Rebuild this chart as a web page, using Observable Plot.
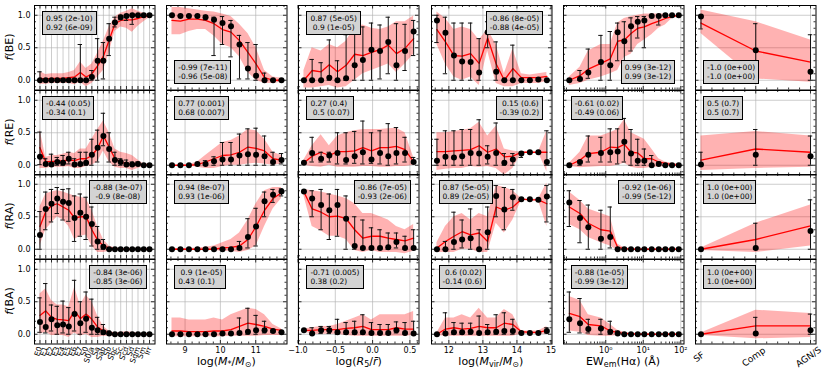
<!DOCTYPE html>
<html><head><meta charset="utf-8">
<script src="https://cdn.jsdelivr.net/npm/d3@7"></script>
<script src="https://cdn.jsdelivr.net/npm/@observablehq/plot@0.6"></script>
<style>
body{margin:0;background:#fff;}
#chart{position:relative;width:831px;height:376px;font-family:"DejaVu Sans",sans-serif;overflow:hidden;background:#fff;}
.box{position:absolute;background:#d3d3d3;border:1px solid #000;font-size:7.5px;line-height:9px;padding:2px 3px;white-space:pre;color:#000;}
.ylab{position:absolute;width:60px;height:14px;line-height:14px;text-align:center;font-size:11px;transform:rotate(-90deg);}
.xlab{position:absolute;text-align:center;font-size:11px;line-height:13px;}
.xlab sub{font-size:8px;vertical-align:-2px;line-height:0;}
</style></head>
<body><div id="chart"></div>
<script>
// ---------- categories / x positions ----------
const morphTypes = ["E0","E1","E2","E3","E4","E5","E6","E7","S0","S0/a","Sa","Sab","Sb","Sbc","Sc","Scd","Sd","Sdm","Sm","Irr"];
const morphX = morphTypes.map((d, i) => i);
const mstarX = [8.63, 8.87, 9.11, 9.35, 9.58, 9.82, 10.06, 10.30, 10.54, 10.78, 11.01, 11.25, 11.49, 11.73];
const r5X = [-0.92, -0.81, -0.69, -0.58, -0.47, -0.355, -0.24, -0.13, -0.015, 0.10, 0.21, 0.32, 0.435, 0.55];
const mvirX = [11.65, 11.90, 12.15, 12.39, 12.64, 12.89, 13.14, 13.39, 13.63, 13.88, 14.13, 14.38, 14.63, 14.88];
const ewX = [0.107, 0.206, 0.343, 0.745, 1.32, 2.08, 3.13, 4.72, 7.13, 10.7, 16.8, 25.9, 38.8, 58.5, 88.3];
const bptTypes = ["SF", "Comp", "AGN/S"];
const bptX = [0, 1, 2];

const rowNames = ["BE", "RE", "RA", "BA"];
const xTitles = ["", "log(<i>M</i><sub>*</sub>/<i>M</i><sub>⊙</sub>)", "log(<i>R</i><sub>5</sub>/<i>r̄</i>)", "log(<i>M</i><sub>vir</sub>/<i>M</i><sub>⊙</sub>)", "EW<sub>em</sub>(Hα) (Å)", ""];
const yTicks = [0, 0.5, 1.0];

// ---------- row BE ----------
const BE_morph_y  = [0,0,0,0,0,0,0,0,0,0.05,0.30,0.30,0.64,0.89,0.97,0.99,1,1,1,1];
const BE_morph_lo = [0,0,0,0,0,0,0,0,0,0,0,0.02,0.38,0.82,0.93,0.92,0.86,1,1,1];
const BE_morph_hi = [0.13,0,0,0,0,0,0,0.55,0,0.15,0.64,0.58,0.87,0.97,1,1,1,1,1,1];
const BE_morph_m  = [0.03,0.02,0.03,0.03,0.03,0.04,0.05,0.12,0.05,0.10,0.22,0.37,0.62,0.87,0.92,0.93,0.93,0.95,0.98,0.99];
const BE_morph_bl = [-0.06,-0.06,-0.05,-0.05,-0.05,-0.05,-0.07,-0.03,-0.10,-0.05,0.05,0.15,0.42,0.75,0.82,0.80,0.74,0.83,0.90,0.96];
const BE_morph_bh = [0.13,0.09,0.10,0.10,0.10,0.12,0.15,0.28,0.18,0.25,0.42,0.60,0.82,0.97,1.03,1.06,1.10,1.06,1.03,1.01];

const BE_mstar_y  = [1.0,0.99,0.99,0.99,0.97,0.93,0.88,0.83,0.55,0.18,0.07,0,0,0];
const BE_mstar_lo = [1,0.99,0.99,0.99,0.93,0.38,0.55,0.36,0.02,0.02,0,0,0,0];
const BE_mstar_hi = [1,0.99,0.99,0.99,1,0.97,0.98,0.92,0.69,0.58,0.55,0.11,0,0];
const BE_mstar_m  = [0.92,0.91,0.94,0.94,0.92,0.87,0.78,0.74,0.61,0.43,0.25,0.04,0,0];
const BE_mstar_bl = [0.70,0.70,0.75,0.78,0.78,0.68,0.55,0.50,0.36,0.12,0,-0.05,-0.05,-0.03];
const BE_mstar_bh = [1.12,1.12,1.10,1.08,1.06,1.05,1.02,0.98,0.86,0.72,0.50,0.15,0.05,0.03];

const BE_r5_y  = [0,0,0,0.04,0,0.03,0.23,0.31,0.47,0.45,0.59,0.23,0.45,0.75];
const BE_r5_lo = [0,0,0,0,0,0,0,0,0,0.02,0.10,0,0.15,0.38];
const BE_r5_hi = [0,0.32,0.27,0.62,0.30,0.70,0.82,0.82,0.88,0.85,0.97,0.87,0.86,0.92];
const BE_r5_m  = [0,0.15,0.13,0.24,0.13,0.23,0.40,0.38,0.43,0.47,0.54,0.41,0.49,0.64];
const BE_r5_bl = [-0.12,-0.12,-0.10,-0.08,-0.12,-0.10,0,0.10,0.15,0.20,0.25,0.12,0.25,0.40];
const BE_r5_bh = [0.15,0.50,0.45,0.55,0.50,0.60,0.82,0.85,0.80,0.78,0.82,0.90,0.90,0.99];

const BE_mvir_y  = [0.92,0.73,0.38,0.29,0.28,0.12,0.74,0.13,0,0,0,0,0.01,0];
const BE_mvir_lo = [0.58,0.10,0,0,0,0,0.50,0,0,0,0,0,0,0];
const BE_mvir_hi = [1,0.97,0.88,0.88,0.88,0.64,0.90,0.59,0,0.54,0,0,0.03,0];
const BE_mvir_m  = [0.78,0.59,0.38,0.37,0.41,0.26,0.65,0.25,0,0.18,0.04,0.04,0.04,0.06];
const BE_mvir_bl = [0.55,0.25,0.05,0,0.05,-0.08,0.45,-0.05,-0.10,-0.10,-0.05,-0.05,-0.05,-0.02];
const BE_mvir_bh = [1.05,0.95,0.78,0.82,0.78,0.62,0.78,0.55,0.10,0.48,0.10,0.08,0.10,0.12];

const BE_ew_y  = [0,0.02,0.12,0.28,0.23,0.74,0.60,0.83,0.90,0.92,0.99,0.99,1,1,1];
const BE_ew_lo = [0,0,0.03,0,0,0.30,0.20,0.45,0.65,0.50,0.99,0.85,1,1,1];
const BE_ew_hi = [0,0.15,0.48,0.69,0.75,0.88,0.90,0.96,0.98,0.98,0.99,1,1,1,1];
const BE_ew_m  = [0,0.07,0.17,0.26,0.33,0.60,0.62,0.72,0.80,0.82,0.87,0.91,0.95,0.98,1];
const BE_ew_bl = [-0.08,-0.05,0,0.05,0.10,0.15,0.35,0.40,0.55,0.62,0.70,0.80,0.85,0.95,0.98];
const BE_ew_bh = [0.05,0.20,0.45,0.55,0.55,0.88,0.95,0.98,1,1.02,1.02,1.02,1.02,1,1];

const BE_bpt_y  = [0.98,0.46,0.13];
const BE_bpt_lo = [0.79,0,0];
const BE_bpt_hi = [1,0.87,0.70];
const BE_bpt_m  = [0.88,0.45,0.28];
const BE_bpt_bl = [0.72,0.02,-0.03];
const BE_bpt_bh = [1.08,0.90,0.62];

// ---------- row RE ----------
const RE_morph_y  = [0.13,0.02,0.01,0.05,0.04,0.10,0.01,0.02,0.04,0.16,0.27,0.45,0.25,0.08,0.05,0.01,0.01,0.02,0,0];
const RE_morph_lo = [0.01,0,0,0,0,0.02,0,0,0,0,0.05,0.30,0.05,0,0,0,0,0,0,0];
const RE_morph_hi = [0.51,0.10,0.17,0.12,0.15,0.20,0.10,0.20,0.20,0.40,0.54,0.80,0.50,0.20,0.10,0.08,0.05,0.05,0,0];
const RE_morph_m  = [0.27,0.05,0.06,0.06,0.07,0.08,0.07,0.10,0.10,0.15,0.26,0.45,0.28,0.10,0.05,0.02,0.02,0.01,0.01,0];
const RE_morph_bl = [-0.05,-0.05,-0.03,-0.03,-0.03,-0.02,-0.05,-0.05,-0.02,0,0.05,0.22,0.05,-0.03,-0.05,-0.05,-0.08,-0.05,-0.02,-0.02];
const RE_morph_bh = [0.55,0.12,0.15,0.15,0.17,0.20,0.18,0.25,0.25,0.40,0.55,0.68,0.50,0.25,0.20,0.18,0.15,0.08,0.02,0.02];

const RE_mstar_y  = [0,0,0,0.02,0.02,0.06,0.09,0.09,0.15,0.17,0.16,0.14,0.05,0.08];
const RE_mstar_lo = [0,0,0,0,0,0,0,0,0,0,0,0,0,0.02];
const RE_mstar_hi = [0,0,0,0.02,0.07,0.13,0.35,0.35,0.48,0.56,0.57,0.45,0.20,0.18];
const RE_mstar_m  = [0,0,0,0.01,0.05,0.10,0.15,0.16,0.20,0.28,0.26,0.22,0.10,0.08];
const RE_mstar_bl = [0,0,-0.01,-0.03,-0.05,-0.05,-0.02,0,0,0.02,0.03,0.02,0,0.02];
const RE_mstar_bh = [0,0,0.01,0.05,0.15,0.25,0.35,0.38,0.45,0.55,0.53,0.40,0.20,0.15];

const RE_r5_y  = [0.04,0.19,0.10,0.15,0.19,0.08,0.14,0.20,0.09,0.19,0.14,0.19,0.19,0.05];
const RE_r5_lo = [0.04,0.05,0.05,0.05,0.02,0.02,0.03,0.02,0.03,0.02,0,0.02,0.05,0.03];
const RE_r5_hi = [0.04,0.43,0.20,0.20,0.50,0.50,0.52,0.68,0.50,0.53,0.64,0.58,0.43,0.12];
const RE_r5_m  = [0.04,0.14,0.20,0.15,0.21,0.21,0.22,0.27,0.22,0.27,0.27,0.29,0.24,0.05];
const RE_r5_bl = [0,-0.02,-0.03,0,-0.03,-0.03,-0.03,-0.02,-0.02,-0.03,-0.03,-0.02,-0.02,0];
const RE_r5_bh = [0.08,0.30,0.47,0.30,0.45,0.50,0.53,0.55,0.55,0.55,0.56,0.57,0.50,0.12];

const RE_mvir_y  = [0.07,0.13,0.12,0.14,0.19,0.18,0.13,0.19,0.04,0.09,0.18,0.20,0.20,0.05];
const RE_mvir_lo = [0,0,0,0,0,0,0.02,0,0,0,0.12,0.20,0.20,0];
const RE_mvir_hi = [0.40,0.53,0.53,0.55,0.55,0.70,0.30,0.65,0.18,0.18,0.20,0.20,0.20,0.53];
const RE_mvir_m  = [0.21,0.21,0.22,0.23,0.24,0.30,0.20,0.25,0.13,0.14,0.20,0.20,0.20,0.20];
const RE_mvir_bl = [-0.08,-0.06,-0.05,-0.05,-0.02,-0.03,-0.02,-0.05,-0.15,-0.05,0.18,0.20,0.20,-0.10];
const RE_mvir_bh = [0.50,0.50,0.52,0.54,0.56,0.66,0.45,0.60,0.25,0.22,0.20,0.20,0.20,0.53];

const RE_ew_y  = [0,0.05,0.16,0.19,0.20,0.21,0.36,0.18,0.07,0.07,0,0.02,0,0,0];
const RE_ew_lo = [0,0,0.05,0.05,0.05,0.02,0.05,0,0,0,0,0,0,0,0];
const RE_ew_hi = [0,0.07,0.45,0.43,0.56,0.56,0.72,0.55,0.40,0.25,0.15,0.05,0,0,0];
const RE_ew_m  = [0,0.08,0.18,0.20,0.28,0.27,0.32,0.20,0.19,0.10,0.10,0.05,0.03,0.01,0];
const RE_ew_bl = [-0.02,-0.04,-0.03,-0.02,-0.02,0,0.03,-0.03,-0.05,-0.05,-0.03,-0.03,-0.02,-0.01,-0.01];
const RE_ew_bh = [0.03,0.20,0.45,0.45,0.50,0.55,0.70,0.50,0.45,0.40,0.25,0.10,0.05,0.03,0.02];

const RE_bpt_y  = [0.01,0.16,0.14];
const RE_bpt_lo = [0,0,0];
const RE_bpt_hi = [0.20,0.55,0.45];
const RE_bpt_m  = [0.08,0.25,0.20];
const RE_bpt_bl = [-0.08,-0.05,-0.03];
const RE_bpt_bh = [0.45,0.52,0.45];

// ---------- row RA ----------
const RA_morph_y  = [0.22,0.62,0.70,0.78,0.73,0.71,0.48,0.56,0.50,0.39,0.12,0.04,0,0,0,0,0,0,0,0];
const RA_morph_lo = [0,0.30,0.42,0.55,0.45,0.43,0.12,0.20,0.15,0.05,0,0,0,0,0,0,0,0,0,0];
const RA_morph_hi = [0.58,0.88,0.92,0.95,0.92,0.93,0.82,0.85,0.80,0.65,0.35,0.15,0,0,0,0,0,0,0,0];
const RA_morph_m  = [0.35,0.58,0.67,0.70,0.65,0.60,0.48,0.50,0.50,0.30,0.14,0.05,0.02,0.01,0,0,0,0,0,0];
const RA_morph_bl = [0.05,0.30,0.40,0.50,0.45,0.35,0.15,0.20,0.22,0.05,-0.05,-0.05,-0.03,-0.02,-0.01,-0.01,-0.01,-0.01,-0.01,-0.01];
const RA_morph_bh = [0.65,0.85,0.88,0.90,0.88,0.85,0.82,0.80,0.78,0.60,0.35,0.15,0.05,0.02,0.01,0.01,0.01,0.01,0.01,0.01];

const RA_mstar_y  = [0,0,0,0,0,0,0,0,0.02,0.19,0.35,0.74,0.84,0.89];
const RA_mstar_lo = [0,0,0,0,0,0,0,0,0,0.02,0.05,0.50,0.72,0.82];
const RA_mstar_hi = [0,0,0,0,0,0,0,0,0.12,0.47,0.63,0.88,0.92,0.93];
const RA_mstar_m  = [0,0,0,0,0,0,0.02,0.03,0.05,0.15,0.35,0.60,0.78,0.87];
const RA_mstar_bl = [-0.01,-0.01,-0.01,-0.01,-0.01,-0.02,-0.03,-0.03,-0.05,-0.02,0.05,0.35,0.62,0.78];
const RA_mstar_bh = [0.01,0.01,0.01,0.02,0.03,0.05,0.10,0.15,0.25,0.45,0.70,0.90,0.95,0.95];

const RA_r5_y  = [0.89,0.78,0.68,0.60,0.68,0.47,0.05,0.02,0.02,0.02,0.03,0.11,0.02,0.02];
const RA_r5_lo = [0.89,0.50,0.30,0.15,0.20,0,0,0,0,0,0,0.02,0,0];
const RA_r5_hi = [0.89,0.90,0.92,0.85,0.92,0.82,0.50,0.45,0.33,0.30,0.25,0.25,0.20,0.30];
const RA_r5_m  = [0.88,0.62,0.57,0.50,0.51,0.47,0.30,0.17,0.20,0.20,0.17,0.15,0.13,0.17];
const RA_r5_bl = [0.82,0.35,0.28,0.20,0.20,0.15,-0.02,-0.05,-0.02,-0.05,-0.05,-0.05,-0.07,-0.03];
const RA_r5_bh = [0.92,0.90,0.88,0.85,0.82,0.78,0.70,0.55,0.55,0.50,0.45,0.35,0.30,0.38];

const RA_mvir_y  = [0,0,0.11,0.15,0.17,0,0.26,0.82,0.61,0.80,0.77,0.77,0.76,0.81];
const RA_mvir_lo = [0,0,0,0.02,0,0,0,0.50,0.30,0.60,0.77,0.77,0.76,0.42];
const RA_mvir_hi = [0,0.12,0.57,0.45,0.62,0.30,0.65,0.98,0.95,0.92,0.77,0.77,0.76,0.98];
const RA_mvir_m  = [0.02,0.12,0.20,0.27,0.22,0.25,0.12,0.65,0.60,0.65,0.77,0.76,0.76,0.70];
const RA_mvir_bl = [-0.05,-0.05,-0.05,0,0,-0.05,-0.05,0.40,0.25,0.45,0.75,0.75,0.75,0.35];
const RA_mvir_bh = [0.10,0.35,0.50,0.55,0.45,0.55,0.50,0.98,0.95,0.90,0.78,0.77,0.77,1.02];

const RA_ew_y  = [0.72,0.48,0.34,0.16,0.19,0,0,0,0,0,0,0,0,0,0];
const RA_ew_lo = [0.35,0.10,0,0,0.02,0,0,0,0,0,0,0,0,0,0];
const RA_ew_hi = [0.90,0.75,0.68,0.60,0.65,0,0,0,0,0,0,0,0,0,0];
const RA_ew_m  = [0.65,0.55,0.40,0.30,0.28,0.03,0.01,0,0,0,0,0,0,0,0];
const RA_ew_bl = [0.38,0.30,0.18,0.10,0.05,-0.02,-0.01,-0.01,-0.01,-0.01,-0.01,-0.01,-0.01,-0.01,-0.01];
const RA_ew_bh = [0.88,0.75,0.62,0.55,0.50,0.08,0.02,0.01,0.01,0.01,0.01,0.01,0.01,0.01,0.01];

const RA_bpt_y  = [0,0.02,0.28];
const RA_bpt_lo = [0,0,0];
const RA_bpt_hi = [0,0.40,0.76];
const RA_bpt_m  = [0,0.15,0.36];
const RA_bpt_bl = [-0.02,-0.05,0.05];
const RA_bpt_bh = [0.02,0.40,0.68];

// ---------- row BA ----------
const BA_morph_y  = [0.19,0.11,0.23,0.14,0.15,0.12,0.31,0.17,0.24,0.10,0.06,0.03,0.01,0,0,0,0,0,0,0];
const BA_morph_lo = [0.03,0.02,0.05,0,0.02,0,0.05,0,0.03,0,0,0,0,0,0,0,0,0,0,0];
const BA_morph_hi = [0.56,0.78,0.45,0.43,0.51,0.41,0.83,0.50,0.65,0.54,0.26,0.15,0.05,0,0,0,0,0,0,0];
const BA_morph_m  = [0.29,0.36,0.26,0.23,0.22,0.21,0.36,0.24,0.31,0.23,0.11,0.05,0.02,0.01,0,0,0,0,0,0];
const BA_morph_bl = [0,0.03,-0.02,-0.02,-0.02,-0.05,0.02,-0.03,0,-0.05,-0.05,-0.03,-0.03,-0.03,-0.02,-0.02,-0.02,-0.01,-0.01,-0.01];
const BA_morph_bh = [0.62,0.70,0.52,0.45,0.45,0.42,0.72,0.45,0.60,0.50,0.28,0.12,0.05,0.02,0.03,0.04,0.03,0.02,0.01,0.01];

const BA_mstar_y  = [0,0,0,0,0,0,0.01,0.01,0.02,0.04,0.06,0.06,0.05,0.03];
const BA_mstar_lo = [0,0,0,0,0,0,0,0,0,0,0,0.02,0.03,0.03];
const BA_mstar_hi = [0,0,0,0,0,0,0.01,0.01,0.25,0.40,0.29,0.20,0.06,0.03];
const BA_mstar_m  = [0.05,0.05,0.04,0.04,0.04,0.05,0.05,0.07,0.12,0.17,0.15,0.12,0.08,0.06];
const BA_mstar_bl = [-0.04,-0.04,-0.04,-0.04,-0.04,-0.04,-0.04,-0.03,-0.03,-0.03,-0.03,-0.02,-0.02,-0.02];
const BA_mstar_bh = [0.25,0.25,0.22,0.22,0.22,0.25,0.22,0.30,0.35,0.40,0.38,0.30,0.15,0.08];

const BA_r5_y  = [0.06,0.01,0.06,0.06,0.03,0.03,0.03,0.03,0.02,0.02,0.02,0.06,0.02,0.01];
const BA_r5_lo = [0.06,0,0.01,0.01,0,0,0,0,0,0,0,0.02,0,0];
const BA_r5_hi = [0.06,0.10,0.12,0.12,0.23,0.18,0.20,0.30,0.18,0.15,0.15,0.19,0.18,0.20];
const BA_r5_m  = [0.06,0.06,0.07,0.07,0.07,0.09,0.10,0.12,0.07,0.07,0.07,0.10,0.08,0.08];
const BA_r5_bl = [0.04,0,0,0,0,-0.02,-0.03,-0.03,-0.03,-0.03,-0.03,-0.03,-0.03,-0.02];
const BA_r5_bh = [0.08,0.10,0.12,0.12,0.15,0.20,0.25,0.30,0.22,0.30,0.30,0.30,0.30,0.35];

const BA_mvir_y  = [0,0.01,0.03,0.03,0.04,0.02,0.03,0.04,0.05,0.05,0.02,0.02,0.02,0.05];
const BA_mvir_lo = [0,0,0,0,0,0,0,0,0,0,0.02,0.02,0.02,0.02];
const BA_mvir_hi = [0,0.33,0.18,0.17,0.17,0.28,0.15,0.30,0.33,0.23,0.02,0.02,0.02,0.10];
const BA_mvir_m  = [0,0.08,0.10,0.08,0.09,0.12,0.10,0.10,0.17,0.15,0.04,0.03,0.03,0.06];
const BA_mvir_bl = [-0.02,-0.03,-0.03,-0.03,-0.03,-0.03,-0.03,-0.03,-0.03,-0.03,0,0,0,0];
const BA_mvir_bh = [0.02,0.25,0.25,0.30,0.25,0.40,0.25,0.25,0.38,0.30,0.05,0.05,0.05,0.12];

const BA_ew_y  = [0.23,0.17,0.08,0.09,0.04,0.01,0,0,0,0,0,0,0,0,0];
const BA_ew_lo = [0.03,0.02,0.02,0,0,0,0,0,0,0,0,0,0,0,0];
const BA_ew_hi = [0.65,0.55,0.23,0.23,0.20,0.05,0,0,0,0,0,0,0,0,0];
const BA_ew_m  = [0.32,0.27,0.15,0.13,0.05,0.03,0.01,0.01,0,0,0,0,0,0,0];
const BA_ew_bl = [0.05,0.03,-0.02,-0.03,-0.03,-0.02,-0.01,-0.01,-0.01,-0.01,-0.01,-0.01,-0.01,-0.01,-0.01];
const BA_ew_bh = [0.58,0.52,0.30,0.25,0.15,0.06,0.03,0.02,0.01,0.01,0.01,0.01,0.01,0.01,0.01];

const BA_bpt_y  = [0,0.01,0.06];
const BA_bpt_lo = [0,0,0];
const BA_bpt_hi = [0,0.26,0.31];
const BA_bpt_m  = [0,0.13,0.13];
const BA_bpt_bl = [-0.02,-0.07,-0.05];
const BA_bpt_bh = [0.02,0.37,0.32];

// ---------- correlation annotations ----------
const BE_txt = ["0.95 (2e-10)\n0.92 (6e-09)", "-0.99 (7e-11)\n-0.96 (5e-08)", "0.87 (5e-05)\n 0.9 (1e-05)", "-0.86 (8e-05)\n-0.88 (4e-05)", "0.99 (3e-12)\n0.99 (3e-12)", "-1.0 (0e+00)\n-1.0 (0e+00)"];
const RE_txt = ["-0.44 (0.05)\n-0.34 (0.1)", "0.77 (0.001)\n0.68 (0.007)", "0.27 (0.4)\n 0.5 (0.07)", " 0.15 (0.6)\n-0.39 (0.2)", "-0.61 (0.02)\n-0.49 (0.06)", "0.5 (0.7)\n0.5 (0.7)"];
const RA_txt = ["-0.88 (3e-07)\n -0.9 (8e-08)", "0.94 (8e-07)\n0.93 (1e-06)", "-0.86 (7e-05)\n-0.93 (2e-06)", "0.87 (5e-05)\n0.89 (2e-05)", "-0.92 (1e-06)\n-0.99 (5e-12)", "1.0 (0e+00)\n1.0 (0e+00)"];
const BA_txt = ["-0.84 (3e-06)\n-0.85 (3e-06)", " 0.9 (1e-05)\n0.43 (0.1)", "-0.71 (0.005)\n0.38 (0.2)", " 0.6 (0.02)\n-0.14 (0.6)", "-0.88 (1e-05)\n-0.99 (3e-12)", "1.0 (0e+00)\n1.0 (0e+00)"];

// ---------- tables built from the arrays ----------
const TABLE = {
  BE: [[BE_morph_y,BE_morph_lo,BE_morph_hi,BE_morph_m,BE_morph_bl,BE_morph_bh],[BE_mstar_y,BE_mstar_lo,BE_mstar_hi,BE_mstar_m,BE_mstar_bl,BE_mstar_bh],[BE_r5_y,BE_r5_lo,BE_r5_hi,BE_r5_m,BE_r5_bl,BE_r5_bh],[BE_mvir_y,BE_mvir_lo,BE_mvir_hi,BE_mvir_m,BE_mvir_bl,BE_mvir_bh],[BE_ew_y,BE_ew_lo,BE_ew_hi,BE_ew_m,BE_ew_bl,BE_ew_bh],[BE_bpt_y,BE_bpt_lo,BE_bpt_hi,BE_bpt_m,BE_bpt_bl,BE_bpt_bh]],
  RE: [[RE_morph_y,RE_morph_lo,RE_morph_hi,RE_morph_m,RE_morph_bl,RE_morph_bh],[RE_mstar_y,RE_mstar_lo,RE_mstar_hi,RE_mstar_m,RE_mstar_bl,RE_mstar_bh],[RE_r5_y,RE_r5_lo,RE_r5_hi,RE_r5_m,RE_r5_bl,RE_r5_bh],[RE_mvir_y,RE_mvir_lo,RE_mvir_hi,RE_mvir_m,RE_mvir_bl,RE_mvir_bh],[RE_ew_y,RE_ew_lo,RE_ew_hi,RE_ew_m,RE_ew_bl,RE_ew_bh],[RE_bpt_y,RE_bpt_lo,RE_bpt_hi,RE_bpt_m,RE_bpt_bl,RE_bpt_bh]],
  RA: [[RA_morph_y,RA_morph_lo,RA_morph_hi,RA_morph_m,RA_morph_bl,RA_morph_bh],[RA_mstar_y,RA_mstar_lo,RA_mstar_hi,RA_mstar_m,RA_mstar_bl,RA_mstar_bh],[RA_r5_y,RA_r5_lo,RA_r5_hi,RA_r5_m,RA_r5_bl,RA_r5_bh],[RA_mvir_y,RA_mvir_lo,RA_mvir_hi,RA_mvir_m,RA_mvir_bl,RA_mvir_bh],[RA_ew_y,RA_ew_lo,RA_ew_hi,RA_ew_m,RA_ew_bl,RA_ew_bh],[RA_bpt_y,RA_bpt_lo,RA_bpt_hi,RA_bpt_m,RA_bpt_bl,RA_bpt_bh]],
  BA: [[BA_morph_y,BA_morph_lo,BA_morph_hi,BA_morph_m,BA_morph_bl,BA_morph_bh],[BA_mstar_y,BA_mstar_lo,BA_mstar_hi,BA_mstar_m,BA_mstar_bl,BA_mstar_bh],[BA_r5_y,BA_r5_lo,BA_r5_hi,BA_r5_m,BA_r5_bl,BA_r5_bh],[BA_mvir_y,BA_mvir_lo,BA_mvir_hi,BA_mvir_m,BA_mvir_bl,BA_mvir_bh],[BA_ew_y,BA_ew_lo,BA_ew_hi,BA_ew_m,BA_ew_bl,BA_ew_bh],[BA_bpt_y,BA_bpt_lo,BA_bpt_hi,BA_bpt_m,BA_bpt_bl,BA_bpt_bh]]
};
const TXT = {BE: BE_txt, RE: RE_txt, RA: RA_txt, BA: BA_txt};

// ---------- layout (styles only) ----------
const L0 = 34, DX = 132.2, PW = 120.5, T0 = 5, PH = 84.5;
const BOXLOC = {
  BE: ["ul","ll","ul","ur","lr","ll"],
  RE: ["ul","ul","ul","ur","ul","ul"],
  RA: ["ur","ul","ur","ul","ur","ul"],
  BA: ["ur","ul","ul","ul","ul","ul"]
};
const rng = (a, b, s) => d3.range(Math.round(a / s), Math.round(b / s) + 1).map(k => +(k * s).toFixed(6));
const notIn = (arr, maj) => arr.filter(v => !maj.some(m => Math.abs(m - v) < 1e-9));
const COLCFG = [
  {x: morphX, type: "linear", domain: [-0.95, 19.95], major: morphX, minor: [], grid: morphX},
  {x: mstarX, type: "linear", domain: [8.475, 11.885], major: [9, 10, 11], minor: notIn(rng(8.6, 11.8, 0.2), [9, 10, 11]), grid: [9, 10, 11], fmt: d => String(d)},
  {x: r5X, type: "linear", domain: [-0.993, 0.622], major: [-1, -0.5, 0, 0.5], minor: notIn(rng(-0.9, 0.6, 0.1), [-1, -0.5, 0, 0.5]), grid: [-1, -0.5, 0, 0.5], fmt: d3.format(".1f")},
  {x: mvirX, type: "linear", domain: [11.49, 15.03], major: [12, 13, 14, 15], minor: notIn(rng(11.6, 15.0, 0.2), [12, 13, 14, 15]), grid: [12, 13, 14, 15], fmt: d => String(d)},
  {x: ewX, type: "log", domain: [Math.pow(10, -1.126), Math.pow(10, 2.086)], major: [1, 10, 100], minor: [0.08, 0.09, 0.2, 0.3, 0.4, 0.5, 0.6, 0.7, 0.8, 0.9, 2, 3, 4, 5, 6, 7, 8, 9, 20, 30, 40, 50, 60, 70, 80, 90], grid: [1, 10, 100], fmt: d => ({1: "10⁰", 10: "10¹", 100: "10²"})[d]},
  {x: bptX, type: "linear", domain: [-0.1, 2.1], major: bptX, minor: notIn(rng(0, 2, 0.2), bptX), grid: bptX}
];
const yMinor = notIn(rng(-0.1, 1.1, 0.1), yTicks);

const chart = document.getElementById("chart");

function makePanel(ri, ci) {
  const row = rowNames[ri], cfg = COLCFG[ci];
  const [ys, lo, hi, m, bl, bh] = TABLE[row][ci];
  const data = cfg.x.map((x, i) => ({x, y: ys[i], lo: lo[i], hi: hi[i], m: m[i], bl: bl[i], bh: bh[i]}));
  const left = L0 + DX * ci, top = T0 + PH * ri;
  const W = PW, H = PH;
  const tk = {stroke: "black", strokeWidth: 0.8};
  const grid = {stroke: "#b0b0b0", strokeOpacity: 0.8, strokeWidth: 0.8};
  const bottom = ri === 3, leftCol = ci === 0;
  const marks = [
    Plot.gridX(cfg.grid, grid),
    Plot.gridY(yTicks, grid),
    Plot.areaY(data, {x: "x", y1: "bl", y2: "bh", fill: "red", fillOpacity: 0.3}),
    Plot.lineY(data, {x: "x", y: "m", stroke: "red", strokeWidth: 1.3}),
    Plot.ruleX(data, {x: "x", y1: "lo", y2: "hi", stroke: "#111", strokeWidth: 1}),
    Plot.ruleY(data, {y: "lo", x1: "x", x2: "x", insetLeft: -2.2, insetRight: -2.2, stroke: "#111", strokeWidth: 1}),
    Plot.ruleY(data, {y: "hi", x1: "x", x2: "x", insetLeft: -2.2, insetRight: -2.2, stroke: "#111", strokeWidth: 1}),
    Plot.dot(data, {x: "x", y: "y", r: 3, fill: "black"}),
    Plot.tickX(cfg.major, {insetTop: H - 3.5, ...tk}),
    Plot.tickX(cfg.major, {insetBottom: H - 3.5, ...tk}),
    Plot.tickX(cfg.minor, {insetTop: H - 2, ...tk}),
    Plot.tickX(cfg.minor, {insetBottom: H - 2, ...tk}),
    Plot.tickY(yTicks, {insetRight: W - 3.5, ...tk}),
    Plot.tickY(yTicks, {insetLeft: W - 3.5, ...tk}),
    Plot.tickY(yMinor, {insetRight: W - 2, ...tk}),
    Plot.tickY(yMinor, {insetLeft: W - 2, ...tk}),
    Plot.frame({stroke: "black", strokeWidth: 1})
  ];
  if (leftCol) marks.push(Plot.axisY(yTicks, {anchor: "left", tickSize: 0, tickPadding: 4, tickFormat: d3.format(".1f"), label: null, fontSize: 8}));
  if (bottom) {
    if (ci === 0) marks.push(Plot.text(morphX, {x: d => d, text: d => morphTypes[d], frameAnchor: "bottom", dy: 3, rotate: -70, textAnchor: "end", lineAnchor: "middle", fontSize: 7.5}));
    else if (ci === 5) marks.push(Plot.text(bptX, {x: d => d, text: d => bptTypes[d], frameAnchor: "bottom", dy: 13, dx: -2, rotate: -35, textAnchor: "middle", lineAnchor: "middle", fontSize: 9}));
    else marks.push(Plot.axisX(cfg.major, {anchor: "bottom", tickSize: 0, tickPadding: 3.5, tickFormat: cfg.fmt, label: null, fontSize: 8}));
  }
  const xOpt = {type: cfg.type, domain: cfg.domain};
  if (!(bottom && ci > 0 && ci < 5)) xOpt.axis = null;
  const yOpt = {domain: [-0.15, 1.15]};
  if (!leftCol) yOpt.axis = null;
  const svg = Plot.plot({
    width: W, height: H, marginTop: 0, marginRight: 0, marginBottom: 0, marginLeft: 0,
    x: xOpt, y: yOpt,
    style: {position: "absolute", left: left + "px", top: top + "px", overflow: "visible", background: "transparent", fontFamily: "DejaVu Sans", fontSize: "7.5px", color: "black"},
    marks
  });
  chart.appendChild(svg);

  // correlation box
  const box = document.createElement("div");
  box.className = "box";
  box.textContent = TXT[row][ci];
  const loc = BOXLOC[row][ci];
  const padX = 8, padY = 6;
  if (loc[1] === "l") box.style.left = (left + padX) + "px"; else box.style.right = (831 - (left + W) + padX) + "px";
  if (loc[0] === "u") box.style.top = (top + padY) + "px"; else box.style.bottom = (376 - (top + H) + padY) + "px";
  chart.appendChild(box);
}

for (let ri = 0; ri < 4; ri++) for (let ci = 0; ci < 6; ci++) makePanel(ri, ci);

rowNames.forEach((r, ri) => {
  const d = document.createElement("div");
  d.className = "ylab";
  d.innerHTML = "<i>f</i>(" + r + ")";
  d.style.left = (10 - 30) + "px";
  d.style.top = (T0 + PH * ri + PH / 2 - 7) + "px";
  chart.appendChild(d);
});
xTitles.forEach((t, ci) => {
  if (!t) return;
  const d = document.createElement("div");
  d.className = "xlab";
  d.innerHTML = t;
  d.style.left = (L0 + DX * ci) + "px";
  d.style.width = PW + "px";
  d.style.top = "355px";
  chart.appendChild(d);
});
</script>
</body></html>
